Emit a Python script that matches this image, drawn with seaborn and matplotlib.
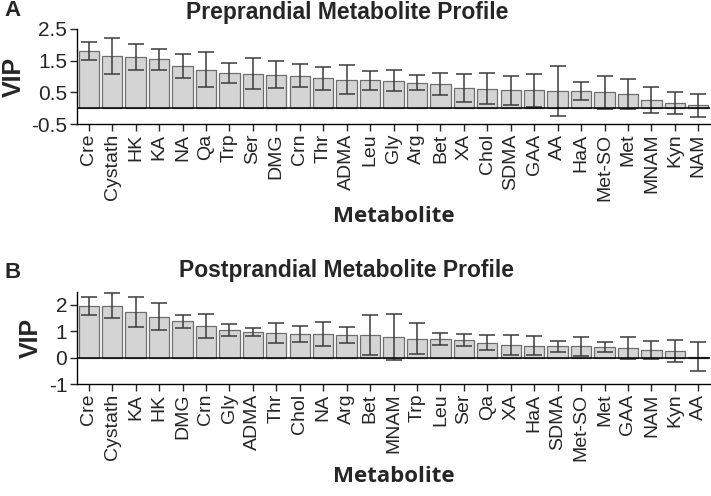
import pandas as pd
import seaborn as sns
import matplotlib
matplotlib.use('Agg')
import matplotlib.pyplot as plt

# VIP scores (mean and error)
pre_names = ['Cre', 'Cystath', 'HK', 'KA', 'NA', 'Qa', 'Trp', 'Ser', 'DMG', 'Crn', 'Thr', 'ADMA', 'Leu', 'Gly',
             'Arg', 'Bet', 'XA', 'Chol', 'SDMA', 'GAA', 'AA', 'HaA', 'Met-SO', 'Met', 'MNAM', 'Kyn', 'NAM']
pre_vip = [1.80, 1.65, 1.62, 1.54, 1.33, 1.21, 1.11, 1.09, 1.06, 1.03, 0.94, 0.90, 0.88, 0.87,
           0.81, 0.77, 0.64, 0.62, 0.56, 0.56, 0.54, 0.54, 0.50, 0.44, 0.26, 0.16, 0.09]
pre_err = [0.28, 0.57, 0.41, 0.34, 0.37, 0.55, 0.31, 0.50, 0.43, 0.35, 0.36, 0.45, 0.30, 0.33,
           0.23, 0.35, 0.45, 0.48, 0.46, 0.52, 0.78, 0.28, 0.53, 0.47, 0.42, 0.35, 0.37]

post_names = ['Cre', 'Cystath', 'KA', 'HK', 'DMG', 'Crn', 'Gly', 'ADMA', 'Thr', 'Chol', 'NA', 'Arg', 'Bet', 'MNAM',
              'Trp', 'Leu', 'Ser', 'Qa', 'XA', 'HaA', 'SDMA', 'Met-SO', 'Met', 'GAA', 'NAM', 'Kyn', 'AA']
post_vip = [1.96, 1.96, 1.72, 1.55, 1.37, 1.18, 1.04, 0.97, 0.93, 0.89, 0.89, 0.86, 0.85, 0.79,
            0.72, 0.70, 0.67, 0.57, 0.48, 0.44, 0.43, 0.43, 0.41, 0.36, 0.28, 0.24, 0.03]
post_err = [0.35, 0.47, 0.56, 0.51, 0.25, 0.45, 0.22, 0.14, 0.37, 0.30, 0.45, 0.29, 0.75, 0.87,
            0.60, 0.24, 0.24, 0.29, 0.39, 0.36, 0.21, 0.36, 0.19, 0.43, 0.33, 0.42, 0.55]

sns.set_style('ticks')
plt.rcParams['font.family'] = ['Liberation Sans', 'DejaVu Sans']

fig = plt.figure(figsize=(7.11, 4.96), dpi=100)
ax1 = fig.add_axes([77/711, 1-124/496, 633/711, 95/496])
ax2 = fig.add_axes([77/711, 1-384/496, 633/711, 92.5/496])


def vip_panel(ax, names, vip, err, yticks, ylim):
    df = pd.DataFrame({'Metabolite': names, 'VIP': vip})
    sns.barplot(data=df, x='Metabolite', y='VIP', ax=ax, color='#d4d4d4', saturation=1,
                edgecolor='#6e6e6e', linewidth=0.9, width=0.87, errorbar=None)
    ax.errorbar(range(len(names)), vip, yerr=err, fmt='none', ecolor='#3c3c3c',
                elinewidth=1.1, capsize=6, capthick=1.1)
    ax.axhline(0, color='black', lw=1.1, zorder=3)
    ax.set_xlim(-0.5, len(names) - 0.5)
    ax.set_ylim(*ylim)
    ax.set_yticks(yticks)
    ax.set_yticklabels([f'{t:g}' for t in yticks], fontsize=15)
    ax.tick_params(axis='x', labelrotation=90, labelsize=14, length=5, width=1, pad=2)
    ax.tick_params(axis='y', length=5, width=1, pad=2)
    sns.despine(ax=ax)
    for s in ['left', 'bottom']:
        ax.spines[s].set_color('black')
        ax.spines[s].set_linewidth(1)
    ax.set_xlabel('Metabolite', family='Open Sans', fontweight='bold', fontsize=16, labelpad=4)
    ax.set_ylabel('VIP', fontweight='bold', fontsize=18, labelpad=4)


vip_panel(ax1, pre_names, pre_vip, pre_err, [-0.5, 0.5, 1.5, 2.5], (-0.5, 2.5))
vip_panel(ax2, post_names, post_vip, post_err, [-1, 0, 1, 2], (-1, 2.5))

fig.text(0.488, 0.975, 'Preprandial Metabolite Profile', ha='center', va='center',
         fontsize=16.5, fontweight='bold')
fig.text(0.488, 1-271/496, 'Postprandial Metabolite Profile', ha='center', va='center',
         fontsize=16.5, fontweight='bold')
fig.text(0.006, 0.978, 'A', ha='left', va='center', fontsize=16, fontweight='bold')
fig.text(0.006, 1-273/496, 'B', ha='left', va='center', fontsize=16, fontweight='bold')

fig.savefig('out.png', dpi=100)
